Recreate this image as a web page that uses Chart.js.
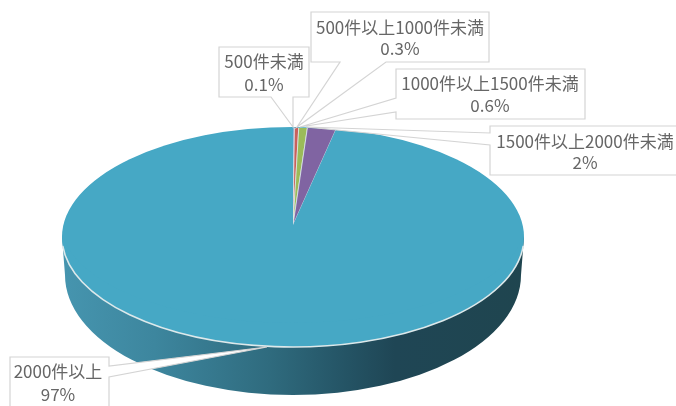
<!DOCTYPE html>
<html lang="en">
<head>
    <meta charset="UTF-8">
    <title>件数別構成比</title>
    <script src="https://cdn.jsdelivr.net/npm/chart.js"></script>
    <style>
        html, body { margin: 0; padding: 0; background: #fff; }
        #chartContainer { width: 676px; height: 406px; overflow: hidden; }
        canvas { filter: blur(0.5px); }
    </style>
</head>
<body>
    <div id="chartContainer">
        <canvas id="pieChart" width="676" height="406"></canvas>
    </div>
    <script>
        const categories = ['500件未満', '500件以上1000件未満', '1000件以上1500件未満', '1500件以上2000件未満', '2000件以上'];
        const shares = [0.1, 0.3, 0.6, 2, 97];
        const valueLabels = ['0.1%', '0.3%', '0.6%', '2%', '97%'];
        const sliceColors = ['#4f81bd', '#c9605c', '#9bbb59', '#8064a2', '#46a8c5'];
        const sliceBorders = ['#e6f0f2', '#e6f0f2', '#e6f0f2', '#e6f0f2', '#46a8c5'];
        const sliceBorderWidths = [1, 1, 1, 1, 0];

        // tilted top ellipse, the apex sits above its middle like the perspective excel pie
        const centerX = 293, centerY = 237, radiusX = 231, radiusY = 110, apexY = 225;
        // bottom rim of the wall is a bit narrower
        const rimY = 275, rimX = 228, rimHeight = 120;

        // callout boxes: [left, top, right, bottom, base1x, base1y, base2x, base2y, tipx, tipy]
        const callouts = [
            [219, 47, 309, 97, 271, 97, 293, 97, 293, 127],
            [311, 12, 489, 62, 340, 62, 386, 62, 297, 127],
            [396, 69, 585, 119, 396, 98, 396, 112, 300, 127],
            [490, 126, 690, 175, 490, 133, 490, 145, 306, 127],
            [10, 357, 109, 412, 109, 366, 109, 377, 267, 347]
        ];
        // text centre x, first line y, second line y
        const calloutText = [
            [264, 62, 85],
            [400, 28, 49],
            [490, 84, 106],
            [585, 142, 163],
            [58, 372, 395]
        ];

        const tilted = {
            id: 'tilted',
            beforeDatasetsDraw(chart) {
                const ctx = chart.ctx;
                const arc = chart.getDatasetMeta(0).data[0];
                const r = arc.outerRadius;

                // side wall
                const wall = ctx.createLinearGradient(centerX - r, 0, centerX + r, 0);
                wall.addColorStop(0, '#4695af');
                wall.addColorStop(0.2, '#3d869e');
                wall.addColorStop(0.45, '#2f6b7e');
                wall.addColorStop(0.62, '#245364');
                wall.addColorStop(0.72, '#1f4655');
                wall.addColorStop(1, '#1f454f');
                ctx.save();
                ctx.fillStyle = wall;
                ctx.beginPath();
                ctx.moveTo(centerX - r, centerY);
                ctx.lineTo(centerX - rimX, rimY);
                ctx.ellipse(centerX, rimY, rimX, rimHeight, 0, Math.PI, 0, true);
                ctx.lineTo(centerX + r, centerY);
                ctx.closePath();
                ctx.fill();

                // top surface under the slices, light edge only along the front
                ctx.fillStyle = sliceColors[4];
                ctx.strokeStyle = '#dde9eb';
                ctx.lineWidth = 1.6;
                ctx.beginPath();
                ctx.ellipse(centerX, centerY, r, radiusY, 0, 0, Math.PI * 2);
                ctx.fill();
                ctx.beginPath();
                ctx.ellipse(centerX, centerY, r, radiusY, 0, 0.08, Math.PI - 0.08);
                ctx.stroke();
                ctx.restore();

                // the library's arcs go through this squash, kept inside the top ellipse
                ctx.save();
                ctx.beginPath();
                ctx.ellipse(centerX, centerY, r - 0.8, radiusY - 0.8, 0, 0, Math.PI * 2);
                ctx.clip();
                ctx.translate(centerX, apexY);
                ctx.scale(1, (apexY - (centerY - radiusY)) / radiusX);
                ctx.translate(-arc.x, -arc.y);
            },
            afterDatasetsDraw(chart) {
                const ctx = chart.ctx;
                ctx.restore();

                callouts.forEach((c, i) => {
                    ctx.save();
                    ctx.fillStyle = '#fff';
                    ctx.strokeStyle = '#d4d4d4';
                    ctx.lineWidth = 1.2;
                    ctx.beginPath();
                    ctx.moveTo(c[0], c[1]);
                    ctx.lineTo(c[2], c[1]);
                    if (i === 4) {
                        ctx.lineTo(c[4], c[5]);
                        ctx.lineTo(c[8], c[9]);
                        ctx.lineTo(c[6], c[7]);
                    }
                    ctx.lineTo(c[2], c[3]);
                    if (i === 0 || i === 1) {
                        ctx.lineTo(c[6], c[7]);
                        ctx.lineTo(c[8], c[9]);
                        ctx.lineTo(c[4], c[5]);
                    }
                    ctx.lineTo(c[0], c[3]);
                    if (i === 2 || i === 3) {
                        ctx.lineTo(c[6], c[7]);
                        ctx.lineTo(c[8], c[9]);
                        ctx.lineTo(c[4], c[5]);
                    }
                    ctx.closePath();
                    ctx.fill();
                    ctx.stroke();

                    const t = calloutText[i];
                    ctx.fillStyle = '#666666';
                    ctx.font = '17px "Noto Sans CJK JP"';
                    ctx.textAlign = 'center';
                    ctx.textBaseline = 'middle';
                    ctx.fillText(categories[i], t[0], t[1]);
                    ctx.fillText(valueLabels[i], t[0], t[2]);
                    ctx.restore();
                });
            }
        };

        new Chart(document.getElementById('pieChart').getContext('2d'), {
            type: 'pie',
            data: {
                labels: categories,
                datasets: [{
                    data: shares,
                    backgroundColor: sliceColors,
                    borderColor: sliceBorders,
                    borderWidth: sliceBorderWidths,
                    radius: radiusX
                }]
            },
            options: {
                responsive: false,
                animation: false,
                plugins: {
                    legend: { display: false },
                    tooltip: { enabled: false }
                }
            },
            plugins: [tilted]
        });
    </script>
</body>
</html>
